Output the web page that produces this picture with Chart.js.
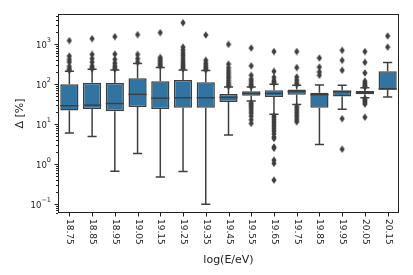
<!DOCTYPE html>
<html>
<head>
<meta charset="utf-8">
<script src="https://cdn.jsdelivr.net/npm/chart.js@4"></script>
<style>
  body { margin: 0; background: #fff; }
</style>
</head>
<body>
<canvas id="chart" width="413" height="275"></canvas>
<script>
var labels = ['18.75', '18.85', '18.95', '19.05', '19.15', '19.25', '19.35', '19.45',
              '19.55', '19.65', '19.75', '19.85', '19.95', '20.05', '20.15'];

// box statistics (%)
var q1 =          [22, 24, 21, 27, 24, 26, 26, 36, 52, 48, 55, 25.7, 49.5, 56, 74];
var median =      [29, 30, 33, 56, 45, 46, 46, 47, 59, 59, 66, 55, 65, 62, 76];
var q3 =          [100, 110, 107, 141, 119, 128, 112, 57, 67, 71, 74, 61, 71, 68, 211];
var whiskerLow =  [6, 4.9, 0.67, 1.85, 0.48, 0.66, 0.1, 5.4, 38, 17.8, 31, 3.1, 23.7, 46, 48];
var whiskerHigh = [211, 237, 228, 330, 262, 228, 220, 85, 85, 100, 94, 96, 94, 82, 350];

var outliers = [
    [1240, 510, 420, 360, 280, 240, 225],
    [1390, 560, 440, 360, 290, 260, 245],
    [1560, 570, 420, 340, 290, 260, 240],
    [1750, 560, 440, 360],
    [1960, 470, 420, 380, 340, 310, 285],
    [3480, 850, 720, 620, 540, 470, 410, 360, 320, 290, 260, 245],
    [1710, 400, 340, 300, 270, 245, 230],
    [1000, 320, 260, 220, 190, 165, 145, 125, 110, 98, 90],
    [810, 290, 168, 135, 120, 105, 95, 88, 34, 31, 28, 25, 22, 19, 16, 13, 10.5],
    [660, 211, 150, 126, 115, 108, 16, 14.7, 13, 11.4, 10, 8.9, 7.8, 6.8, 5.8, 4.8, 4.4, 2.7, 2.5, 1.26, 1.05, 0.4],
    [660, 262, 152, 128, 110, 100, 28, 25, 22, 19.5, 17, 15, 13, 11.5],
    [455, 270, 204, 168],
    [708, 398, 224, 13.8, 2.37],
    [660, 355, 192, 120, 108, 98, 90, 86, 44, 41, 38, 35, 32, 15],
    [1620, 855]
];

var BOX_COLOR = '#3274a1';
var LINE_COLOR = '#3f3f3f';
var FONT = '"DejaVu Sans", sans-serif';

var outlierPoints = [];
outliers.forEach(function (list, i) {
    list.forEach(function (v) {
        outlierPoints.push({ x: labels[i], y: v });
    });
});

// thin diamond marker like matplotlib 'd'
var diamond = document.createElement('canvas');
diamond.width = 6;
diamond.height = 8;
var dctx = diamond.getContext('2d');
dctx.fillStyle = LINE_COLOR;
dctx.beginPath();
dctx.moveTo(3, 0.3);
dctx.lineTo(5.6, 4);
dctx.lineTo(3, 7.7);
dctx.lineTo(0.4, 4);
dctx.closePath();
dctx.fill();

var boxPlugin = {
    id: 'boxParts',
    beforeDatasetsDraw: function (chart) {
        var ctx = chart.ctx;
        var x = chart.scales.x, y = chart.scales.y;
        var half = x.width / labels.length * 0.8 / 2;
        ctx.save();
        ctx.strokeStyle = LINE_COLOR;
        ctx.lineWidth = 1.5;
        labels.forEach(function (lab, i) {
            var cx = x.getPixelForValue(i);
            ctx.beginPath();
            ctx.moveTo(cx, y.getPixelForValue(q3[i]));
            ctx.lineTo(cx, y.getPixelForValue(whiskerHigh[i]));
            ctx.moveTo(cx, y.getPixelForValue(q1[i]));
            ctx.lineTo(cx, y.getPixelForValue(whiskerLow[i]));
            ctx.moveTo(cx - half / 2, y.getPixelForValue(whiskerHigh[i]));
            ctx.lineTo(cx + half / 2, y.getPixelForValue(whiskerHigh[i]));
            ctx.moveTo(cx - half / 2, y.getPixelForValue(whiskerLow[i]));
            ctx.lineTo(cx + half / 2, y.getPixelForValue(whiskerLow[i]));
            ctx.stroke();
        });
        ctx.restore();
    },
    afterDatasetDraw: function (chart, args) {
        if (args.index !== 0) return;
        var ctx = chart.ctx;
        var x = chart.scales.x, y = chart.scales.y;
        var half = x.width / labels.length * 0.8 / 2;
        ctx.save();
        ctx.strokeStyle = LINE_COLOR;
        ctx.lineWidth = 1.5;
        labels.forEach(function (lab, i) {
            var cx = x.getPixelForValue(i);
            var my = y.getPixelForValue(median[i]);
            ctx.beginPath();
            ctx.moveTo(cx - half, my);
            ctx.lineTo(cx + half, my);
            ctx.stroke();
        });
        ctx.restore();
    },
    afterDraw: function (chart) {
        var ctx = chart.ctx;
        var area = chart.chartArea;
        var x = chart.scales.x, y = chart.scales.y;
        ctx.save();
        ctx.strokeStyle = '#222';
        ctx.lineWidth = 1;
        ctx.strokeRect(area.left + 0.5, area.top + 0.5, area.right - area.left - 1, area.bottom - area.top - 1);

        ctx.fillStyle = '#222';
        // y ticks (log, major + minor)
        for (var e = -2; e <= 3; e++) {
            for (var m = 1; m <= 9; m++) {
                var v = m * Math.pow(10, e);
                if (v < y.min || v > y.max) continue;
                var py = Math.round(y.getPixelForValue(v)) + 0.5;
                var len = m === 1 ? 3.5 : 2;
                ctx.beginPath();
                ctx.moveTo(area.left, py);
                ctx.lineTo(area.left - len, py);
                ctx.stroke();
                if (m === 1) {
                    var sup = e < 0 ? '\u2212' + (-e) : String(e);
                    ctx.font = '6.5px ' + FONT;
                    var supW = ctx.measureText(sup).width;
                    ctx.textAlign = 'right';
                    ctx.textBaseline = 'middle';
                    ctx.fillText(sup, area.left - 7, py - 4);
                    ctx.font = '8.5px ' + FONT;
                    ctx.fillText('10', area.left - 7 - supW, py + 1);
                }
            }
        }

        // x ticks with labels reading top to bottom
        ctx.font = '9px ' + FONT;
        labels.forEach(function (lab, i) {
            var px = Math.round(x.getPixelForValue(i)) + 0.5;
            ctx.beginPath();
            ctx.moveTo(px, area.bottom);
            ctx.lineTo(px, area.bottom + 3.5);
            ctx.stroke();
            ctx.save();
            ctx.translate(px, area.bottom + 6);
            ctx.rotate(Math.PI / 2);
            ctx.textAlign = 'left';
            ctx.textBaseline = 'middle';
            ctx.fillText(lab, 0, 0);
            ctx.restore();
        });

        // axis titles
        ctx.font = '11px ' + FONT;
        ctx.textAlign = 'center';
        ctx.textBaseline = 'middle';
        ctx.fillText('log(E/eV)', (area.left + area.right) / 2, 260);
        ctx.save();
        ctx.translate(20, (area.top + area.bottom) / 2);
        ctx.rotate(-Math.PI / 2);
        ctx.fillText('\u0394 [%]', 0, 0);
        ctx.restore();
        ctx.restore();
    }
};

var ctx = document.getElementById('chart').getContext('2d');
var chart = new Chart(ctx, {
    type: 'bar',
    data: {
        labels: labels,
        datasets: [{
            label: 'box',
            data: q1.map(function (v, i) { return [v, q3[i]]; }),
            backgroundColor: BOX_COLOR,
            borderColor: LINE_COLOR,
            borderWidth: 1.5,
            borderSkipped: false,
            barPercentage: 0.8,
            categoryPercentage: 1.0,
            order: 1
        }, {
            type: 'line',
            label: 'outliers',
            data: outlierPoints,
            showLine: false,
            pointStyle: diamond,
            order: 0
        }]
    },
    options: {
        responsive: false,
        devicePixelRatio: 1,
        animation: false,
        layout: {
            padding: { left: 58, right: 14, top: 14, bottom: 62 }
        },
        scales: {
            x: {
                type: 'category',
                display: false,
                offset: true
            },
            y: {
                type: 'logarithmic',
                display: false,
                min: 0.06,
                max: 5750
            }
        },
        plugins: {
            legend: { display: false },
            tooltip: { enabled: false }
        }
    },
    plugins: [boxPlugin]
});
</script>
</body>
</html>
